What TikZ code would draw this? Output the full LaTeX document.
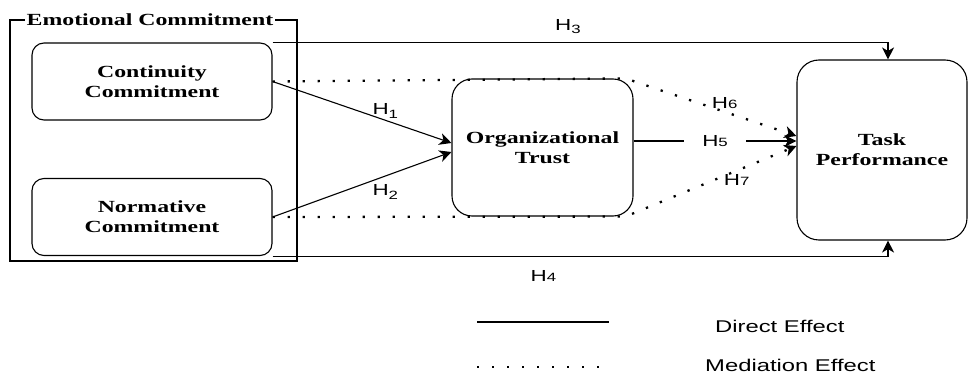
\documentclass[tikz,border=0pt]{standalone}
\usepackage{fontspec}
\usetikzlibrary{arrows.meta}
\newfontfamily\boxfont{Liberation Serif}[FakeStretch=1.4]
\newfontfamily\lblfont{Liberation Sans}[FakeStretch=1.4]
\newcommand{\hsub}[1]{H\raisebox{-3.5pt}{\fontsize{12}{12}\selectfont #1}}
\newcommand{\hnum}[1]{H{\fontsize{12}{12}\selectfont #1}}

\begin{document}
\begin{tikzpicture}[x=1pt,y=-1pt]

%
% Styles
%
\tikzstyle{construct} = [draw,line width=1.1pt,rounded corners=12pt,align=center,inner sep=0pt,
                         font=\boxfont\bfseries\fontsize{17}{20}\selectfont]
\tikzstyle{group}     = [draw,line width=1.1pt,inner sep=0pt]
\tikzstyle{title}     = [fill=white,inner xsep=2pt,inner ysep=0pt,font=\boxfont\bfseries\fontsize{17}{20}\selectfont]
\tikzstyle{direct}    = [-{Stealth[length=12pt,width=12pt,inset=3.5pt]},line width=1.1pt]
\tikzstyle{mediate}   = [-{Stealth[length=12pt,width=12pt,inset=3.5pt]},line width=2.3pt,dash pattern=on 2.3pt off 12.7pt]
\tikzstyle{hlbl}      = [inner sep=1pt,font=\lblfont\fontsize{16}{16}\selectfont]
\tikzstyle{legend}    = [inner sep=0pt,font=\lblfont\fontsize{17}{17}\selectfont]

\useasboundingbox (0,0) rectangle (968,374);

\node[group] (emo) at (153.5,140.5) [minimum width=287pt,minimum height=241pt] {};
\node[title,anchor=west] (emotitle) at ([xshift=15pt]emo.north west) {Emotional Commitment};

\node[construct] (cont)  at (152,81.5) [minimum width=240pt,minimum height=77pt] {Continuity\\Commitment};
\node[construct] (norm)  at (152,217)  [minimum width=240pt,minimum height=77pt] {Normative\\Commitment};
\node[construct] (trust) at (542.5,147.5) [minimum width=181pt,minimum height=137pt,rounded corners=20pt] {Organizational\\Trust};
\node[construct] (task)  at (882,150) [minimum width=170pt,minimum height=180pt,rounded corners=22pt] {Task\\Performance};

\coordinate (tt) at ([xshift=-8pt]trust.north east);
\coordinate (tb) at ([xshift=-8pt]trust.south east);

\draw[direct]  (cont.east) -- node[hlbl,pos=0.63,yshift=9pt] {\hsub{1}} ([yshift=4.5pt]trust.west);
\draw[direct]  (norm.east) -- node[hlbl,pos=0.63,yshift=-16pt] {\hsub{2}} ([yshift=-4.5pt]trust.west);
\draw[direct]  (cont.north east) -| node[hlbl,pos=0.24,yshift=16pt] {\hsub{3}} ([xshift=6pt]task.north);
\draw[direct]  (norm.south east) -| node[hlbl,pos=0.22,yshift=-20pt] {\hnum{4}} ([xshift=6pt]task.south);
\draw[direct]  ([yshift=6.5pt]trust.east) -- node[hlbl,fill=white,inner xsep=18pt] {\hnum{5}} ([yshift=9pt]task.west);
\draw[mediate] (cont.east) -- (tt) -- node[hlbl,pos=0.58,yshift=9pt] {\hnum{6}} ([yshift=14pt]task.west);
\draw[mediate] (norm.east) -- (tb) -- node[hlbl,pos=0.65,yshift=-9.5pt] {\hnum{7}} ([yshift=4pt]task.west);

% legend
\coordinate (d1) at (477,322);
\coordinate (d2) at (609,322);
\coordinate (m1) at (477,367);
\coordinate (m2) at (609,367);
\draw[line width=1.1pt] (d1) -- (d2);
\draw[line width=2.3pt,dash pattern=on 2.3pt off 12.7pt] (m1) -- (m2);
\node[legend,anchor=base west] (ldirect) at (715,332) {Direct Effect};
\node[legend,anchor=base west] (lmediate) at (705,371) {Mediation Effect};

\end{tikzpicture}
\end{document}
